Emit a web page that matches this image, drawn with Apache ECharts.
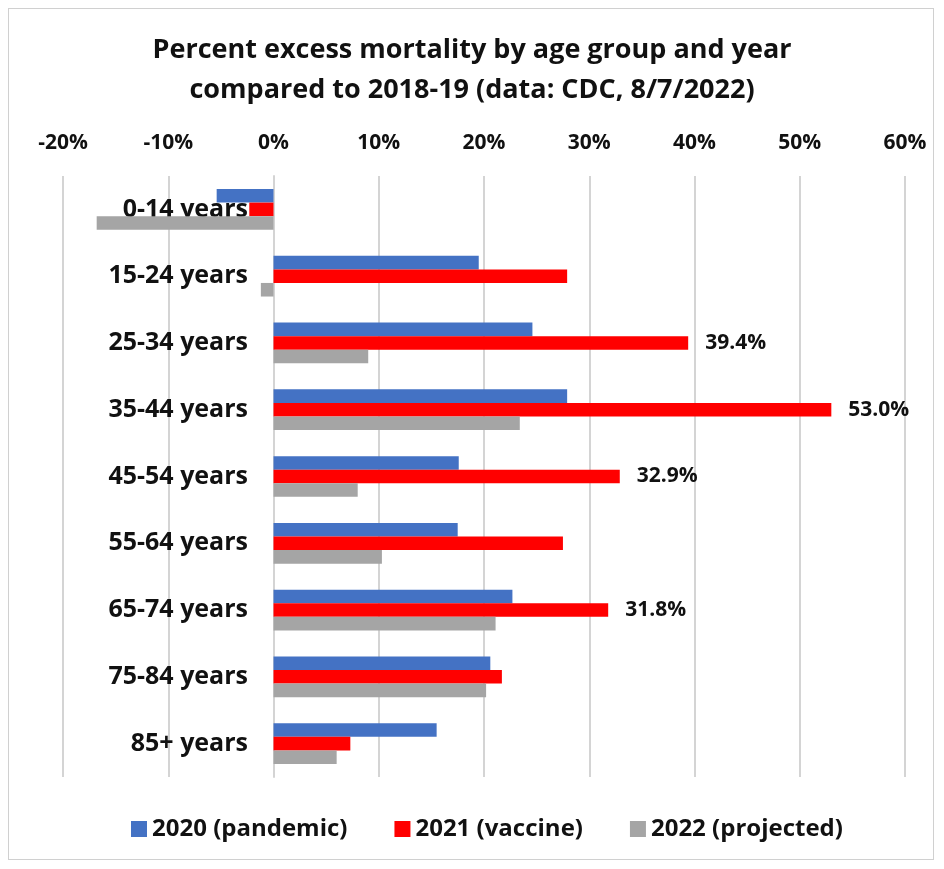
<!DOCTYPE html>
<html>
<head>
<meta charset="utf-8">
<script src="https://cdn.jsdelivr.net/npm/echarts@6/dist/echarts.min.js"></script>
<style>
  html, body { margin: 0; padding: 0; background: #fff; }
  #frame {
    position: absolute; left: 8px; top: 8px; width: 926px; height: 852px;
    border: 1px solid #d0d0d0; box-sizing: border-box;
  }
  #chart { position: absolute; left: 0; top: 0; width: 944px; height: 869px; }
</style>
</head>
<body>
<div id="frame"></div>
<div id="chart"></div>
<script>
const ageGroups = ["0-14 years", "15-24 years", "25-34 years", "35-44 years", "45-54 years",
  "55-64 years", "65-74 years", "75-84 years", "85+ years"];
const pandemic2020 = [-5.4, 19.5, 24.6, 27.9, 17.6, 17.5, 22.7, 20.6, 15.5];
const vaccine2021 = [-2.3, 27.9, 39.4, 53.0, 32.9, 27.5, 31.8, 21.7, 7.3];
const projected2022 = [-16.8, -1.2, 9.0, 23.4, 8.0, 10.3, 21.1, 20.2, 6.0];
// only these red bars get a value label
const labelledGroups = ["25-34 years", "35-44 years", "45-54 years", "65-74 years"];

const font = "'Open Sans', sans-serif";
const gridColor = "#d4d4d4";

const chart = echarts.init(document.getElementById("chart"));

chart.setOption({
  animation: false,
  title: {
    text: "Percent excess mortality by age group and year\ncompared to 2018-19 (data: CDC, 8/7/2022)",
    left: "center",
    top: 25,
    textStyle: { fontFamily: font, fontWeight: "bold", fontSize: 27, lineHeight: 40, color: "#111" },
  },
  legend: {
    bottom: 23,
    left: 126,
    itemWidth: 16,
    itemHeight: 16,
    itemGap: 47,
    icon: "rect",
    textStyle: { fontFamily: font, fontWeight: "bold", fontSize: 24, color: "#111" },
  },
  grid: { left: 63, right: 39, top: 176, bottom: 92, outerBoundsMode: "none", containLabel: false },
  xAxis: {
    type: "value",
    position: "top",
    min: -20,
    max: 60,
    interval: 10,
    axisLine: { show: false },
    axisTick: { show: false },
    axisLabel: {
      formatter: "{value}%",
      margin: 22,
      fontFamily: font, fontWeight: "bold", fontSize: 21, color: "#111",
    },
    splitLine: { lineStyle: { color: gridColor, width: 2 } },
  },
  yAxis: {
    type: "category",
    inverse: true,
    data: ageGroups,
    axisLine: { show: true, onZero: true, lineStyle: { color: gridColor, width: 2 } },
    axisTick: { show: false },
    // labels sit just left of the 0% line, over the negative bars
    axisLabel: {
      margin: -185,
      padding: [4, 0, 0, 0],
      fontFamily: font, fontWeight: "bold", fontSize: 25, color: "#111",
    },
  },
  series: [
    {
      name: "2020 (pandemic)",
      type: "bar",
      data: pandemic2020,
      barGap: "0%",
      barCategoryGap: "39%",
      itemStyle: { color: "#4472c4" },
    },
    {
      name: "2021 (vaccine)",
      type: "bar",
      data: vaccine2021,
      itemStyle: { color: "#ff0000" },
      label: {
        show: true,
        position: "right",
        distance: 17,
        fontFamily: font, fontWeight: "bold", fontSize: 21, color: "#111",
        formatter: (p) => labelledGroups.includes(p.name) ? p.value.toFixed(1) + "%" : "",
      },
    },
    {
      name: "2022 (projected)",
      type: "bar",
      data: projected2022,
      itemStyle: { color: "#a5a5a5" },
    },
  ],
});
</script>
</body>
</html>
